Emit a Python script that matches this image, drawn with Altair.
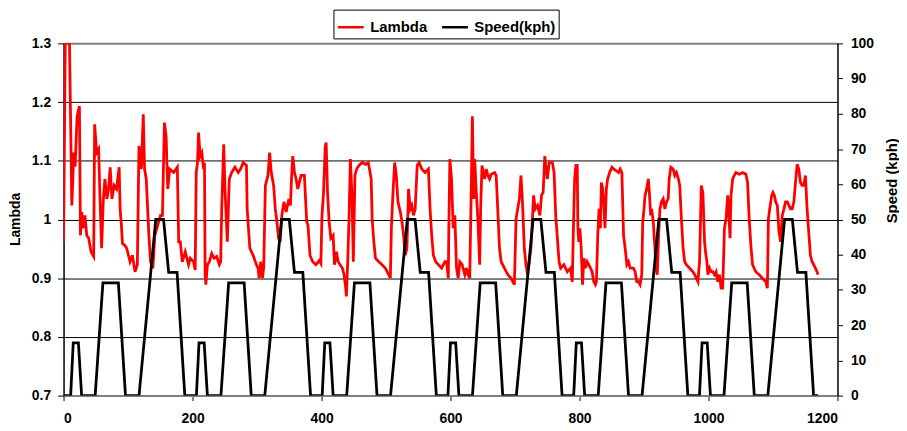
import altair as alt
import pandas as pd

# ---- Speed trace (ECE-15 urban cycle breakpoints) ----
SPEED_T = [
    0, 11, 15, 23, 28, 49, 61, 85, 96, 117, 143, 155, 163, 176, 188,
    195, 206, 210, 218, 223, 244, 256, 280, 291, 312, 338, 350, 358, 371, 383,
    390, 401, 405, 413, 418, 439, 451, 475, 486, 507, 533, 545, 553, 566, 578,
    585, 596, 600, 608, 613, 634, 646, 670, 681, 702, 728, 740, 748, 761, 773,
    780, 791, 795, 803, 808, 829, 841, 865, 876, 897, 923, 935, 943, 956, 968,
    975, 986, 990, 998, 1003, 1024, 1036, 1060, 1071, 1092, 1118, 1130, 1138, 1151, 1163,
    1170,
]
SPEED_V = [
    0, 0, 15, 15, 0, 0, 32, 32, 0, 0, 50, 50, 35, 35, 0,
    0, 0, 15, 15, 0, 0, 32, 32, 0, 0, 50, 50, 35, 35, 0,
    0, 0, 15, 15, 0, 0, 32, 32, 0, 0, 50, 50, 35, 35, 0,
    0, 0, 15, 15, 0, 0, 32, 32, 0, 0, 50, 50, 35, 35, 0,
    0, 0, 15, 15, 0, 0, 32, 32, 0, 0, 50, 50, 35, 35, 0,
    0, 0, 15, 15, 0, 0, 32, 32, 0, 0, 50, 50, 35, 35, 0,
    0,
]

# ---- Lambda trace ----
LAMBDA_T = [
    0, 2.6, 9.2, 12.8, 14.4, 15.9, 17.9, 21, 24.6, 26.2, 28.2, 30.3, 33.3, 35.9, 39, 42.6, 46.7,
    48.2, 51.3, 54.4, 55.9, 59, 61.5, 64.1, 67.2, 69.7, 72.3, 74.9, 78.5, 82.1, 86.2, 87.7, 89.7,
    91.3, 94.9, 97.9, 103.1, 106.7, 110.8, 114.4, 116.9, 120.5, 123.6, 125.6, 128.2, 132.3, 134.9,
    138.5, 141.5, 150.3, 153.3, 156.4, 159, 161.5, 164.6, 170.8, 176.4, 178.5, 181, 184.1, 188.7, 193.8,
    196.5, 201.6, 204.1, 205.7, 207.7, 209.3, 211.8, 214.4, 217, 218.5, 219.5, 220.6, 223.1, 226.2,
    229.8, 233.4, 237.5, 241.6, 243.6, 245.2, 248.3, 250.3, 253.9, 257, 260.6, 265.7, 270.8, 274.4,
    278.5, 283.6, 284.7, 288.8, 293.9, 299, 301.6, 303.1, 305.7, 308.3, 310.3, 312.9, 317, 319.5,
    322.1, 325.7, 328.3, 330.8, 333.4, 335.9, 338.5, 341.6, 345.2, 349.3, 351.8, 353.4, 355.4, 358,
    360.6, 363.1, 368.3, 373.4, 377, 379, 382.1, 386.2, 391.3,
    396.5, 399, 400.6, 403.1, 405.7, 407.2, 409.3, 411.8, 414.4, 418, 420, 423.1, 425.7, 428.8,
    432.4, 434.9, 437.5, 438.5, 440.6, 442.6, 444.7, 447.2, 449.3, 451.8, 454.4, 458, 463.1, 468.3,
    472.4, 474.4, 477, 478.5, 481.1, 483.6, 488.8, 493.9, 499, 503.1, 506.7, 508.3, 510.8, 513.4,
    515.9, 518.5, 522.1, 524.7, 527.2, 529.8, 532.4, 534.9, 537.5, 540, 542.6, 545.2, 548.3, 551.3,
    555.4, 560.6, 565.7, 568.3, 570.8, 573.4, 577, 581.1, 586.2, 591.3,
    593.9, 596.5, 597.5, 599, 601.6, 604.1, 606.7, 609.3, 611.8, 614.4, 618, 622.1, 624.7, 627.2,
    629.8, 632.4, 633.9, 635.9, 637.5, 640, 642.6, 645.2, 646.7, 648.8, 650.8, 652.9, 655.4, 658,
    660.6, 663.1, 668.3, 670.8, 673.4, 675.9, 678.5, 683.6, 688.8, 693.9, 699, 701.6, 704.1, 706.7,
    709.3, 711.8, 714.4, 717, 719.5, 722.1, 724.7, 728.8, 731.3, 734.9, 738.5, 741.1, 743.6, 746.2,
    748.2, 750.3, 752.9, 758, 760.6, 763.1, 765.7, 768.3, 770.8, 775.9, 781.1, 786.2, 788.8,
    790.3, 792.4, 794.4, 796.5, 797.5, 799, 800.6, 802.6, 804.7, 806.7, 809.3, 811.8, 814.4, 817,
    819.5, 822.1, 824.7, 826.2, 828.3, 830.3, 832.4, 833.9, 835.9, 837.5, 839.5, 841.6, 843.6, 846.7,
    850.3, 852.9, 857, 860.6, 863.1, 865.7, 868.3, 870.8, 873.4, 875.9, 878.5, 883.6, 886.2, 888.8,
    891.3, 893.9, 896.5, 898, 900, 901.6, 904.1, 906.7, 908.3, 910.3, 911.8, 914.4, 917, 918.5,
    920.6, 922.6, 924.7, 927.2, 929.8, 932.4, 934.9, 937.5, 939, 941.6, 945.2, 947.7, 950.3, 953.4,
    955.4, 958, 960.6, 963.1, 965.7, 970.8, 975.9, 978.5, 981.1, 983.6,
    986.2, 988.8, 991.3, 993.9, 995.4, 997.5, 999, 1001.6, 1004.1, 1006.7, 1009.3, 1011.8, 1014.4,
    1017, 1019.5, 1022.1, 1024.7, 1027.2, 1029.8, 1031.3, 1033.4, 1034.9, 1037.5, 1040, 1042.6,
    1047.7, 1052.9, 1058, 1060.6, 1063.1, 1065.7, 1068.3, 1070.8, 1073.4, 1078.5, 1083.6, 1088.8,
    1091.3, 1092.9, 1094.9, 1098, 1100, 1102.1, 1104.1, 1106.7, 1109.3, 1111.8, 1114.4, 1117,
    1119.5, 1122.1, 1124.7, 1127.2, 1129.8, 1132.4, 1134.9, 1137.5, 1140, 1142.6, 1145.2, 1147.7,
    1150.3, 1152.9, 1155.4, 1158, 1160.6, 1163.1, 1165.7, 1168.3, 1169.8,
]
LAMBDA_V = [
    0.962, 1.30, 1.30, 1.024, 1.07, 1.114, 1.09, 1.176, 1.193, 0.973, 1.013, 0.985, 1.007, 0.973, 0.968, 0.945, 0.937,
    1.162, 1.114, 1.12, 1.058, 0.951, 1.03, 1.069, 1.035, 1.052, 1.089, 1.035, 1.058, 1.052, 1.089, 1.018, 0.99,
    0.959, 0.956, 0.951, 0.928, 0.939, 0.911, 0.923, 1.125, 1.086, 1.179, 1.086, 1.069, 0.973, 0.928,
    0.917, 0.973, 1.007, 1.007, 1.165, 1.142, 1.052, 1.086, 1.080, 1.089, 0.962, 0.962, 0.928, 0.945, 0.923,
    0.934, 0.928, 0.914, 1.080, 1.097, 1.148, 1.108, 1.114, 1.086, 1.097, 0.906, 0.889, 0.923, 0.928,
    0.942, 0.934, 0.937, 0.923, 0.928, 1.018, 1.128, 1.052, 0.962, 1.069, 1.080, 1.089, 1.080, 1.086,
    1.097, 1.092, 1.018, 0.951, 0.939, 0.923, 0.917, 0.900, 0.928, 0.900, 0.917, 1.058, 1.075, 1.114,
    1.080, 1.058, 1.018, 0.996, 0.968, 0.962, 1.007, 1.030, 1.013, 1.035, 1.024, 1.069, 1.108, 1.080,
    1.069, 1.052, 1.075, 1.075, 0.996, 0.990, 0.939, 0.928, 0.923,
    0.930, 0.925, 1.005, 1.046, 1.125, 1.131, 1.046, 0.996, 0.968, 0.973, 0.923, 0.945, 0.928, 0.923,
    0.917, 0.906, 0.883, 0.869, 0.928, 1.001, 1.103, 1.041, 0.928, 1.075, 1.086, 1.092, 1.097, 1.094,
    1.097, 1.086, 1.069, 1.001, 0.962, 0.934, 0.928, 0.923, 0.917, 0.908, 0.900, 0.985, 1.046, 1.097,
    1.075, 1.030, 1.013, 0.996, 0.973, 0.939, 0.951, 1.052, 1.018, 1.024, 1.007, 1.018, 1.092, 1.097,
    1.086, 1.080, 1.086, 1.018, 0.973, 0.939, 0.928, 0.923, 0.917, 0.928,
    0.928, 0.900, 0.996, 1.103, 1.069, 0.985, 1.007, 0.917, 0.900, 0.928, 0.923, 0.906, 0.917, 0.906,
    0.900, 1.069, 1.176, 1.035, 1.103, 1.046, 0.996, 0.923, 1.018, 1.092, 1.080, 1.069, 1.086, 1.075,
    1.069, 1.077, 1.080, 1.075, 1.013, 0.951, 0.928, 0.917, 0.906, 0.900, 0.889, 1.001, 1.018, 1.035,
    1.075, 1.024, 0.951, 0.923, 0.906, 0.928, 0.951, 1.041, 1.018, 1.024, 1.007, 1.041, 1.046, 1.108,
    1.086, 1.069, 1.097, 1.097, 1.080, 1.007, 0.968, 0.928, 0.917, 0.923, 0.911, 0.917, 0.894,
    0.973, 1.069, 1.092, 1.092, 0.985, 0.962, 0.985, 0.951, 0.889, 0.934, 0.917, 0.928, 0.923, 0.917,
    0.911, 0.894, 0.889, 0.894, 0.973, 1.018, 0.985, 1.063, 1.052, 1.030, 0.985, 1.052, 1.069, 1.080,
    1.089, 1.086, 1.083, 1.080, 1.086, 1.080, 0.973, 0.951, 0.923, 0.928, 0.917, 0.917, 0.911, 0.894,
    0.894, 0.889, 0.906, 0.996, 1.018, 1.041, 1.052, 1.069, 1.046, 1.007, 1.018, 0.996, 0.951, 0.917,
    0.906, 0.973, 1.018, 1.030, 1.035, 1.018, 1.030, 1.035, 1.069, 1.089, 1.086, 1.075, 1.080, 1.069,
    1.058, 1.001, 0.951, 0.928, 0.923, 0.917, 0.911, 0.906, 0.900, 0.894,
    0.930, 1.058, 1.046, 0.962, 0.945, 0.928, 0.906, 0.917, 0.911, 0.911, 0.906, 0.911, 0.894,
    0.906, 0.883, 0.883, 0.985, 1.001, 1.041, 1.018, 0.968, 1.041, 1.069, 1.075, 1.080,
    1.077, 1.080, 1.077, 1.063, 1.001, 0.956, 0.923, 0.917, 0.911, 0.906, 0.900, 0.894,
    0.883, 1.001, 1.018, 1.041, 1.046, 1.041, 1.030, 1.024, 0.979, 0.962, 1.007, 1.018,
    1.030, 1.030, 1.024, 1.018, 1.018, 1.030, 1.063, 1.094, 1.086, 1.063, 1.058, 1.058,
    1.075, 1.018, 0.979, 0.939, 0.928, 0.923, 0.917, 0.911, 0.906,
]

SERIES = ["Lambda", "Speed(kph)"]
COLORS = ["#ff0000", "#000000"]
X_TICKS = [0, 200, 400, 600, 800, 1000, 1200]
LAMBDA_TICKS = [0.7, 0.8, 0.9, 1.0, 1.1, 1.2, 1.3]
SPEED_TICKS = [0, 10, 20, 30, 40, 50, 60, 70, 80, 90, 100]

FONT = "Liberation Sans"

df_l = pd.DataFrame({"t": LAMBDA_T, "value": LAMBDA_V, "series": SERIES[0]})
df_s = pd.DataFrame({"t": SPEED_T, "value": SPEED_V, "series": SERIES[1]})

color = alt.Color(
    "series:N",
    scale=alt.Scale(domain=SERIES, range=COLORS),
    legend=alt.Legend(
        title=None,
        orient="none",
        legendX=272,
        legendY=-34,
        direction="horizontal",
        symbolType="stroke",
        symbolSize=676,
        symbolStrokeWidth=2.5,
        labelFont=FONT,
        labelFontSize=15,
        labelFontWeight="bold",
        labelColor="#000000",
        labelOffset=5,
        columnPadding=9,
        strokeColor="#000000",
        fillColor="#ffffff",
        padding=3,
    ),
)

x_enc = alt.X(
    "t:Q",
    scale=alt.Scale(domain=[0, 1200], nice=False),
    axis=alt.Axis(
        values=X_TICKS,
        format="d",
        title=None,
        grid=False,
        domainColor="#808080",
        domainWidth=2,
        tickColor="#000000",
        tickSize=5,
        labelFont=FONT,
        labelFontSize=14,
        labelFontWeight="bold",
        labelColor="#000000",
        labelPadding=11,
    ),
)

lam = alt.Chart(df_l).mark_line(strokeWidth=2.8, clip=True).encode(
    x=x_enc,
    y=alt.Y(
        "value:Q",
        scale=alt.Scale(domain=[0.7, 1.3], nice=False, zero=False),
        axis=alt.Axis(
            values=LAMBDA_TICKS,
            format="~g",
            title="Lambda",
            titleFont=FONT,
            titleFontSize=14,
            titleFontWeight="bold",
            titleColor="#000000",
            titleAngle=270,
            titleX=-48,
            titleY=177,
            titleAlign="center",
            titleBaseline="middle",
            grid=True,
            gridColor={"condition": {"test": "datum.value > 1.25 || datum.value < 0.75", "value": "#808080"}, "value": "#000000"},
            gridWidth={"condition": {"test": "datum.value > 1.25 || datum.value < 0.75", "value": 2}, "value": 1},
            domainColor="#000000",
            domainWidth=1.5,
            tickColor="#000000",
            tickSize=6,
            labelFont=FONT,
            labelFontSize=14,
            labelFontWeight="bold",
            labelColor="#000000",
            labelPadding=7,
        ),
    ),
    color=color,
    order=alt.Order("t:Q"),
)

spd = alt.Chart(df_s).mark_line(strokeWidth=2.8, clip=True).encode(
    x=x_enc,
    y=alt.Y(
        "value:Q",
        scale=alt.Scale(domain=[0, 100], nice=False),
        axis=alt.Axis(
            orient="right",
            values=SPEED_TICKS,
            title="Speed (kph)",
            titleFont=FONT,
            titleFontSize=15,
            titleFontWeight="bold",
            titleColor="#000000",
            titleAngle=270,
            titleX=54,
            titleY=138,
            titleAlign="center",
            titleBaseline="middle",
            grid=False,
            domainColor="#000000",
            domainWidth=1.5,
            tickColor="#000000",
            tickSize=5,
            labelFont=FONT,
            labelFontSize=14,
            labelFontWeight="bold",
            labelColor="#000000",
            labelPadding=8,
        ),
    ),
    color=color,
    order=alt.Order("t:Q"),
)

chart = (
    alt.layer(lam, spd)
    .resolve_scale(y="independent")
    .properties(
        width=780,
        height=355,
        padding={"left": 56, "top": 34, "right": 62, "bottom": 30},
        autosize=alt.AutoSizeParams(type="none"),
        background="#ffffff",
    )
    .configure_view(stroke="transparent")
)

chart.save("out.html", embed_options={"renderer": "svg", "actions": False})
